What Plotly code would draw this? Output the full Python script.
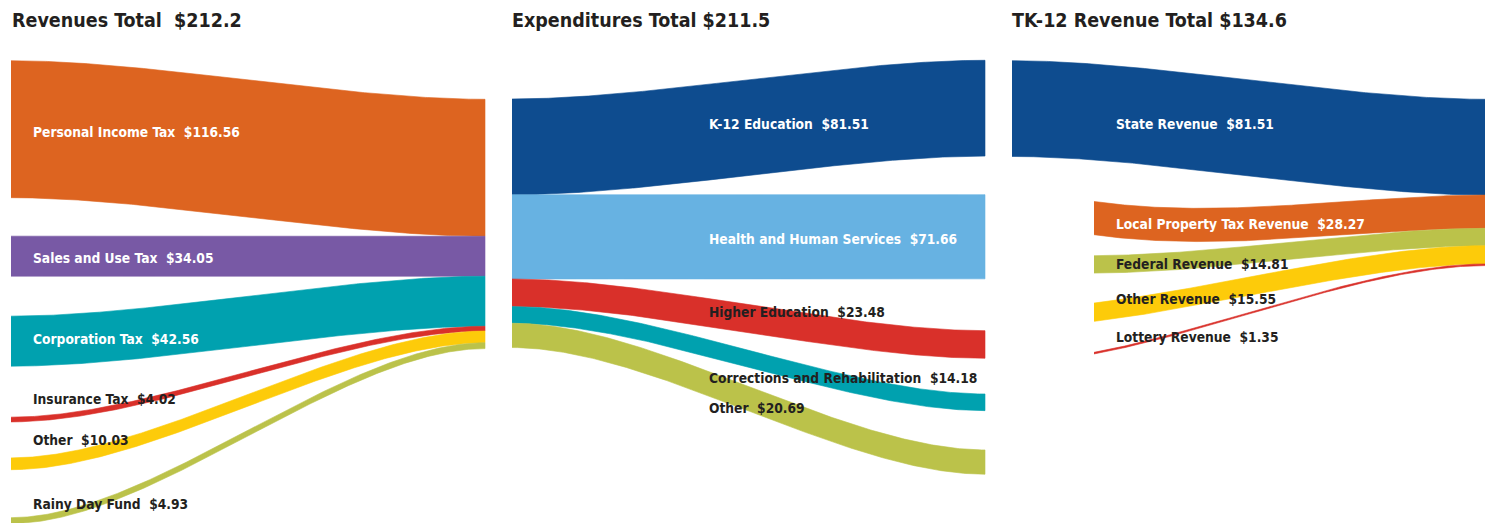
import numpy as np
import plotly.graph_objects as go

# ---------------- data ----------------
rev_labels = ["Personal Income Tax", "Sales and Use Tax", "Corporation Tax",
              "Insurance Tax", "Other", "Rainy Day Fund"]
rev_values = [116.56, 34.05, 42.56, 4.02, 10.03, 4.93]
rev_total = 212.2

exp_labels = ["K-12 Education", "Health and Human Services", "Higher Education",
              "Corrections and Rehabilitation", "Other"]
exp_values = [81.51, 71.66, 23.48, 14.18, 20.69]
exp_total = 211.5

tk_labels = ["State Revenue", "Local Property Tax Revenue", "Federal Revenue",
             "Other Revenue", "Lottery Revenue"]
tk_values = [81.51, 28.27, 14.81, 15.55, 1.35]
tk_total = 134.6

# ---------------- style / layout ----------------
W, H = 1493, 523
PAGE_OFF = 8           # browser default body margin
TEXT_PAD = 2           # annotation inner padding compensation
SCALE = 1.175          # pixels per $ billion
K = 0.3                # bezier control handle fraction
FONT = "DejaVu Sans Condensed, Liberation Sans Narrow, Arial Narrow, sans-serif"
TITLE_SIZE = 19.5
LABEL_SIZE = 13.7
DARK = "#231F20"
WHITE = "#FFFFFF"

ORANGE, PURPLE, TEAL, RED = "#DD6420", "#7859A5", "#00A1AF", "#D9302A"
YELLOW, OLIVE, NAVY, SKY = "#FDCB0A", "#BBC24A", "#0E4C8F", "#67B2E2"

panels = [
    dict(title="Revenues Total\u00a0\u00a0$" + f"{rev_total:.1f}",
         labels=rev_labels, values=rev_values,
         colors=[ORANGE, PURPLE, TEAL, RED, YELLOW, OLIVE],
         x0=11, x1=485, spread="left", spread_start=60.7,
         gaps=[38.5, 40, 51, 36, 48], stack_start=99.3,
         clip_x=[None] * 6, bump=[0] * 6,
         label_x=33, label_y=[131.7, 258, 339.3, 399.3, 440.3, 503.7],
         label_col=[WHITE, WHITE, WHITE, DARK, DARK, DARK], title_x=12),
    dict(title="Expenditures Total $" + f"{exp_total:.1f}",
         labels=exp_labels, values=exp_values,
         colors=[NAVY, SKY, RED, TEAL, OLIVE],
         x0=512, x1=985, spread="right", spread_start=60.3,
         gaps=[38.6, 51.8, 35.7, 39.3], stack_start=99.0,
         clip_x=[None] * 5, bump=[0] * 5,
         label_x=708.5, label_y=[124.3, 239, 311.7, 378.3, 408.3],
         label_col=[WHITE, WHITE, DARK, DARK, DARK], title_x=512),
    dict(title="TK-12 Revenue Total $" + f"{tk_total:.1f}",
         labels=tk_labels, values=tk_values,
         colors=[NAVY, ORANGE, OLIVE, YELLOW, RED],
         x0=1012, x1=1486, spread="left", spread_start=60.7,
         gaps=[45, 21, 30, 31], stack_start=99.3,
         clip_x=[None, 1094, 1094, 1094, 1094], bump=[0, 9, 3, 0, 0],
         label_x=1115.7, label_y=[124, 224, 264.3, 299, 336.7],
         label_col=[WHITE, WHITE, DARK, DARK, DARK], title_x=1012),
]

t = np.linspace(0, 1, 240)


def bez_frac(t):
    """x-fraction and y-fraction of the S-shaped cubic link."""
    xf = 3 * (1 - t) ** 2 * t * K + 3 * (1 - t) * t ** 2 * (1 - K) + t ** 3
    yf = 3 * (1 - t) * t ** 2 + t ** 3
    return xf, yf


fig = go.Figure()
annotations = []

for p in panels:
    vals = np.array(p["values"], dtype=float)
    hts = vals * SCALE
    stack_tops = p["stack_start"] + np.concatenate([[0], np.cumsum(hts)[:-1]])
    spread_tops = [p["spread_start"]]
    for i in range(1, len(vals)):
        spread_tops.append(spread_tops[-1] + hts[i - 1] + p["gaps"][i - 1])
    spread_tops = np.array(spread_tops)
    if p["spread"] == "left":
        left_tops, right_tops = spread_tops, stack_tops
    else:
        left_tops, right_tops = stack_tops, spread_tops

    x0, x1 = p["x0"], p["x1"]
    w = x1 - x0
    xf, yf = bez_frac(t)
    xs = x0 + w * xf
    for i in range(len(vals)):
        yl, yr, h = left_tops[i], right_tops[i], hts[i]
        cx = p["clip_x"][i]
        if cx is None:
            ytop = yl + (yr - yl) * yf
            bx = xs
        else:
            g = np.interp((cx - x0) / w, xf, yf)
            yv = (yl - g * yr) / (1 - g)
            ytop_full = yv + (yr - yv) * yf
            keep = xs >= cx
            bx = np.concatenate([[cx], xs[keep]])
            ytop = np.concatenate([[yl], ytop_full[keep]])
            s = (bx - cx) / (x1 - cx)
            ytop = ytop + p["bump"][i] * 6.75 * s * (1 - s) ** 2
        ybot = ytop + h
        px = np.concatenate([bx, bx[::-1]])
        py = np.concatenate([ytop, ybot[::-1]])
        fig.add_trace(go.Scatter(
            x=px, y=py, mode="lines", fill="toself",
            fillcolor=p["colors"][i],
            line=dict(color=p["colors"][i], width=0.6),
            hoverinfo="skip", showlegend=False))

        annotations.append(dict(
            x=p["label_x"] - TEXT_PAD, y=p["label_y"][i], xref="x", yref="y",
            text=f"{p['labels'][i]}\u00a0\u00a0${vals[i]:.2f}",
            showarrow=False, xanchor="left", yanchor="middle",
            font=dict(family=FONT, size=LABEL_SIZE, color=p["label_col"][i],
                      weight="bold")))

    annotations.append(dict(
        x=p["title_x"] - TEXT_PAD, y=20.7, xref="x", yref="y", text=p["title"],
        showarrow=False, xanchor="left", yanchor="middle",
        font=dict(family=FONT, size=TITLE_SIZE, color=DARK, weight="bold")))

fig.update_layout(
    width=W - PAGE_OFF, height=H - PAGE_OFF,
    margin=dict(l=0, r=0, t=0, b=0),
    paper_bgcolor="white", plot_bgcolor="white",
    xaxis=dict(range=[PAGE_OFF, W], visible=False, fixedrange=True),
    yaxis=dict(range=[H, PAGE_OFF], visible=False, fixedrange=True),
    annotations=annotations,
    showlegend=False,
)

fig.write_html("out.html")
